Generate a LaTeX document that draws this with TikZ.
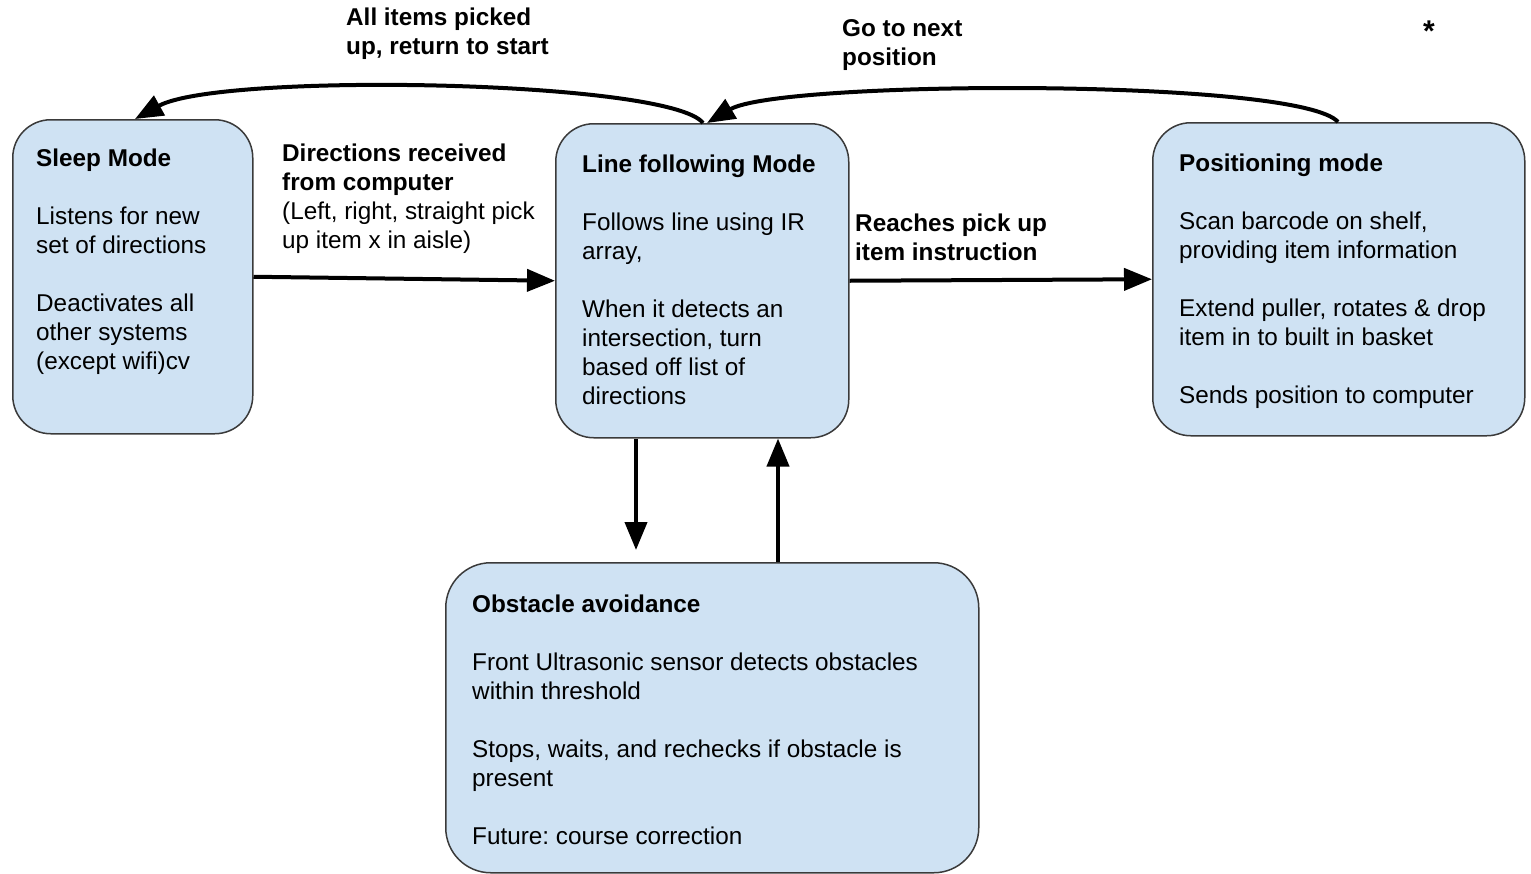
\documentclass[tikz,border=0pt]{standalone}
\usepackage{fontspec}
\setmainfont{Liberation Sans}
\usetikzlibrary{arrows.meta}
\definecolor{boxfill}{HTML}{CFE2F3}
\definecolor{boxline}{HTML}{3A3A3A}
\newcommand{\toprule}{\rule{0pt}{20pt}}
\frenchspacing
\begin{document}
\begin{tikzpicture}[x=1pt,y=-1pt,
  box/.style={draw=boxline, line width=1.5pt, fill=boxfill, rounded corners=38pt, inner sep=0pt, anchor=north west},
  txt/.style={anchor=north west, align=left, inner sep=0pt, font=\fontsize{24.3}{29}\selectfont},
  btxt/.style={txt, font=\fontsize{24.3}{29}\selectfont\bfseries},
  conn/.style={line width=4pt, -{Triangle[length=28pt,width=22pt]}},
  ]
\useasboundingbox (0,0) rectangle (1531,873);

% boxes
\node[box, minimum width=240pt, minimum height=314pt] (sleep) at (12,119) {};
\node[box, minimum width=293pt, minimum height=314pt] (line) at (555,123) {};
\node[box, minimum width=372pt, minimum height=313pt] (pos) at (1152,122) {};
\node[box, minimum width=533pt, minimum height=310pt, rounded corners=45pt] (obs) at (445,562) {};

% box texts (y = first baseline - 20)
\node[txt] (sleeptxt) at (36,146) {\toprule\textbf{Sleep Mode}\\[29pt]Listens for new\\set of directions\\[29pt]Deactivates all\\other systems\\(except wifi)cv};
\node[txt] (linetxt) at (582,152) {\toprule\textbf{Line following Mode}\\[29pt]Follows line using IR\\array,\\[29pt]When it detects an\\intersection, turn\\based off list of\\directions};
\node[txt] (postxt) at (1179,151) {\toprule\textbf{Positioning mode}\\[29pt]Scan barcode on shelf,\\providing item information\\[29pt]Extend puller, rotates \& drop\\item in to built in basket\\[29pt]Sends position to computer};
\node[txt] (obstxt) at (472,592) {\toprule\textbf{Obstacle avoidance}\\[29pt]Front Ultrasonic sensor detects obstacles\\within threshold\\[29pt]Stops, waits, and rechecks if obstacle is\\present\\[29pt]Future: course correction};

% labels
\node[btxt] (lblreturn) at (346,5) {\toprule All items picked\\up, return to start};
\node[btxt] (lblnext) at (842,16) {\toprule Go to next\\position};
\node[txt] (lbldir) at (282,141) {\toprule\textbf{Directions received}\\\textbf{from computer}\\(Left, right, straight pick\\up item x in aisle)};
\node[btxt] (lblreach) at (855,211) {\toprule Reaches pick up\\item instruction};
\node[inner sep=0pt, font=\fontsize{30}{30}\selectfont\bfseries, anchor=base] (star) at (1429,41) {*};

% connectors
\coordinate (c1) at (703,0);
\coordinate (c2) at (135,0);
\coordinate (c3) at (1338,0);
\coordinate (c4) at (707,0);
\coordinate (dn) at (636,550);
\coordinate (upx) at (778,0);

\draw[conn] (sleep.east) -- (line.west);
\draw[conn] (line.east) -- (pos.west);
\draw[conn] (line.south -| dn) -- (dn);
\draw[conn] (obs.north -| upx) -- (line.south -| upx);
\draw[conn] (line.north -| c1) .. controls (670,80) and (220,72) .. (sleep.north -| c2);
\draw[conn] (pos.north -| c3) .. controls (1300,78) and (780,80) .. (line.north -| c4);
\end{tikzpicture}
\end{document}
